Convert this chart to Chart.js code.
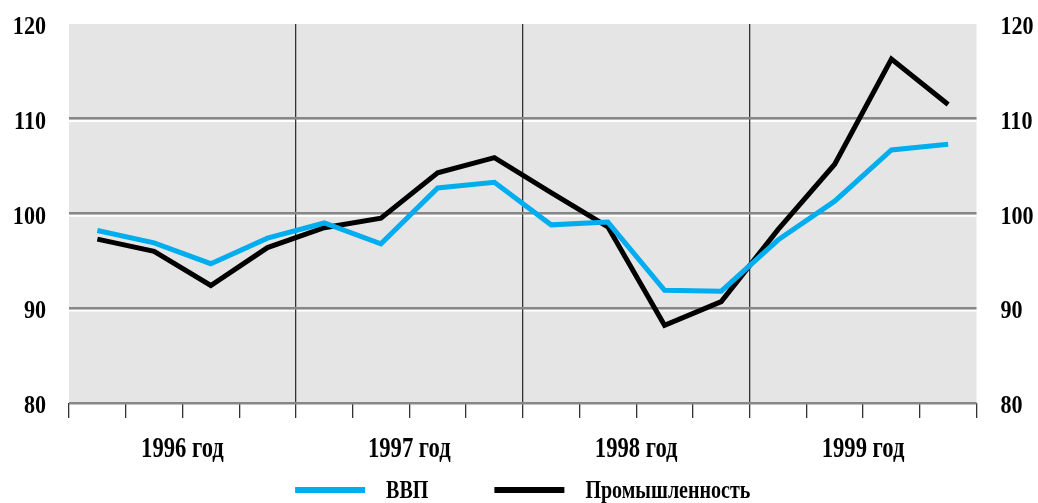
<!DOCTYPE html>
<html>
<head>
<meta charset="utf-8">
<title>ВВП и промышленность</title>
<script src="https://cdn.jsdelivr.net/npm/chart.js@4.4.1/dist/chart.umd.min.js"></script>
<style>
  html, body { margin: 0; padding: 0; background: #fff; overflow: hidden; }
  #wrap { width: 1038px; height: 503px; position: relative; }
</style>
</head>
<body>
<div id="wrap"><canvas id="myChart"></canvas></div>
<script>
// quarterly indices, 1996-1999
var quarters = ['I 1996', 'II 1996', 'III 1996', 'IV 1996',
                'I 1997', 'II 1997', 'III 1997', 'IV 1997',
                'I 1998', 'II 1998', 'III 1998', 'IV 1998',
                'I 1999', 'II 1999', 'III 1999', 'IV 1999'];
var years = ['1996 год', '1997 год', '1998 год', '1999 год'];
var gdp      = [98.2, 96.9, 94.7, 97.4, 99.0, 96.8, 102.7, 103.3, 98.8, 99.1, 91.9, 91.8, 97.2, 101.3, 106.7, 107.3];
var industry = [97.3, 96.0, 92.4, 96.4, 98.5, 99.5, 104.3, 105.9, 102.2, 98.6, 88.2, 90.7, 98.3, 105.2, 116.3, 111.5];
var yTicks = [80, 90, 100, 110, 120];

var serif = "'Liberation Serif', 'Times New Roman', serif";

// bold serif squeezed horizontally (narrow newspaper type)
function condensedText(c, text, x, y, align, size, sx) {
  c.save();
  c.font = 'bold ' + size + 'px ' + serif;
  c.textBaseline = 'alphabetic';
  c.textAlign = align;
  c.translate(x, y);
  c.scale(sx, 1);
  c.fillText(text, 0, 0);
  c.restore();
}
function condensedWidth(c, text, size, sx) {
  c.save();
  c.font = 'bold ' + size + 'px ' + serif;
  var w = c.measureText(text).width * sx;
  c.restore();
  return w;
}

// grey plot background + thin white strip under each grid line
var plotBg = {
  id: 'plotBg',
  beforeDraw: function (chart) {
    var a = chart.chartArea, c = chart.ctx, y = chart.scales.y;
    c.save();
    c.fillStyle = '#e5e5e5';
    c.fillRect(a.left, a.top, a.right - a.left, a.bottom - a.top);
    c.fillStyle = '#ffffff';
    yTicks.forEach(function (v) {
      if (v <= yTicks[0] || v >= yTicks[yTicks.length - 1]) return;
      var p = y.getPixelForValue(v);
      c.fillRect(a.left, p + 1.3, a.right - a.left, 2);
    });
    c.restore();
  }
};

// axis labels and legend
var labelsPlugin = {
  id: 'condensedLabels',
  afterDraw: function (chart) {
    var c = chart.ctx, a = chart.chartArea, y = chart.scales.y, ys = chart.scales.years;
    c.save();
    c.fillStyle = '#000';
    yTicks.forEach(function (v) {
      var p = y.getPixelForValue(v);
      condensedText(c, String(v), a.left - 23, p + 10, 'right', 26, 0.85);
      condensedText(c, String(v), a.right + 24, p + 10, 'left', 26, 0.85);
    });
    ys.ticks.forEach(function (t, i) {
      condensedText(c, ys.getLabelForValue(t.value), ys.getPixelForTick(i), ys.top + 39, 'center', 29, 0.78);
    });

    // legend row under the axis
    var sw = 70, gapText = 21, gapItem = 66, size = 26, sx = 0.77;
    var sets = chart.data.datasets;
    var total = 0;
    sets.forEach(function (ds, i) {
      total += sw + gapText + condensedWidth(c, ds.label, size, sx) + (i ? gapItem : 0);
    });
    var x = (a.left + a.right) / 2 - total / 2;
    var ly = ys.bottom + 17;
    sets.forEach(function (ds, i) {
      if (i) x += gapItem;
      c.fillStyle = ds.borderColor;
      c.fillRect(x, ly - 3, sw, 6);
      x += sw + gapText;
      c.fillStyle = '#000';
      condensedText(c, ds.label, x, ly + 8, 'left', size, sx);
      x += condensedWidth(c, ds.label, size, sx);
    });
    c.restore();
  }
};

function setTicks(scale) {
  scale.ticks = yTicks.map(function (v) { return { value: v }; });
}

var ctx = document.getElementById('myChart').getContext('2d');
var myChart = new Chart(ctx, {
  type: 'line',
  data: {
    labels: quarters,
    datasets: [{
      label: 'ВВП',
      data: gdp,
      borderColor: '#00adef',
      backgroundColor: '#00adef',
      borderWidth: 5,
      pointRadius: 0,
      tension: 0,
      borderJoinStyle: 'miter',
      yAxisID: 'y'
    }, {
      label: 'Промышленность',
      data: industry,
      borderColor: '#000000',
      backgroundColor: '#000000',
      borderWidth: 5,
      pointRadius: 0,
      tension: 0,
      borderJoinStyle: 'miter',
      yAxisID: 'y'
    }]
  },
  options: {
    responsive: true,
    maintainAspectRatio: false,
    animation: false,
    layout: { padding: { top: 24, left: 11, right: 3.5, bottom: 30 } },
    plugins: {
      legend: { display: false },
      tooltip: { enabled: false }
    },
    scales: {
      x: {
        type: 'category',
        position: 'bottom',
        weight: 0,
        offset: true,
        border: { display: false },
        grid: {
          offset: true,
          drawOnChartArea: true,
          drawTicks: true,
          tickLength: 15,
          tickColor: '#333333',
          tickWidth: 1.3,
          lineWidth: 1.3,
          // only year boundaries cross the plot
          color: function (c) {
            return (c.index !== undefined && c.index > 0 && c.index % 4 === 0) ? '#333333' : 'rgba(0,0,0,0)';
          }
        },
        ticks: { display: false }
      },
      years: {
        type: 'category',
        labels: years,
        position: 'bottom',
        weight: 1,
        offset: true,
        border: { display: false },
        grid: { display: false, drawTicks: false },
        ticks: { display: false },
        afterFit: function (s) { s.height = 55; }
      },
      y: {
        position: 'left',
        min: yTicks[0],
        max: yTicks[yTicks.length - 1],
        afterBuildTicks: setTicks,
        border: { display: false },
        grid: {
          drawTicks: false,
          lineWidth: 2.6,
          color: function (c) {
            return c.tick && c.tick.value === yTicks[yTicks.length - 1] ? 'rgba(0,0,0,0)' : '#878787';
          }
        },
        ticks: { display: false },
        afterFit: function (s) { s.width = 58; }
      },
      y2: {
        position: 'right',
        min: yTicks[0],
        max: yTicks[yTicks.length - 1],
        afterBuildTicks: setTicks,
        border: { display: false },
        grid: { display: false, drawTicks: false },
        ticks: { display: false },
        afterFit: function (s) { s.width = 58; }
      }
    }
  },
  plugins: [plotBg, labelsPlugin]
});
</script>
</body>
</html>
